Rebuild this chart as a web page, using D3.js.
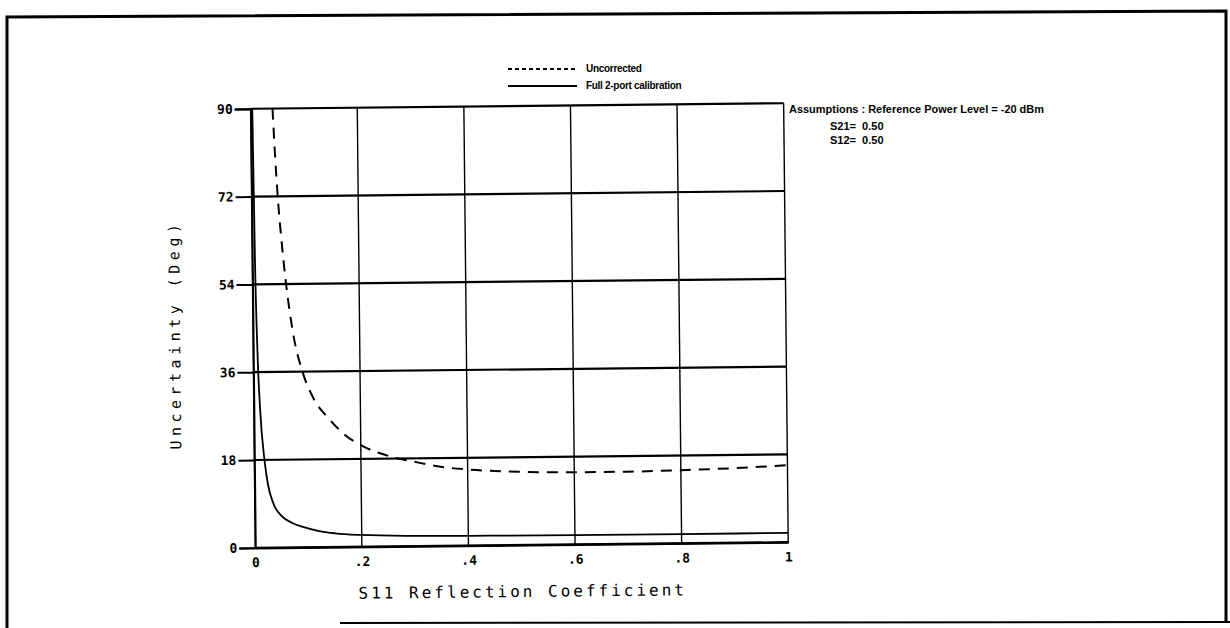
<!DOCTYPE html>
<html><head><meta charset="utf-8">
<script src="https://cdn.jsdelivr.net/npm/d3@7"></script>
<style>body{margin:0;background:#fff}svg{display:block}</style>
</head><body>
<script>
const xTicks = [0, 0.2, 0.4, 0.6, 0.8, 1];
const xTickLabels = ["0", ".2", ".4", ".6", ".8", "1"];
const yTicks = [0, 18, 36, 54, 72, 90];
const yTickLabels = ["0", "18", "36", "54", "72", "90"];

const uncorrX = [0.041, 0.045, 0.049, 0.056, 0.063, 0.075, 0.092, 0.11, 0.143, 0.17, 0.2, 0.25, 0.3, 0.35, 0.4, 0.5, 0.6, 0.7, 0.8, 0.9, 1.0];
const uncorrY = [90, 80, 72, 62, 54, 44, 36, 31, 26, 23, 20.8, 18.6, 17.3, 16.2, 15.6, 15.0, 14.8, 14.8, 15.0, 15.3, 15.8];

const fullX = [0.003, 0.005, 0.008, 0.012, 0.019, 0.025, 0.035, 0.05, 0.07, 0.09, 0.12, 0.15, 0.2, 0.3, 0.4, 0.6, 0.8, 1.0];
const fullY = [90, 60, 40, 28, 18, 13, 9, 6.5, 5, 4.2, 3.3, 2.8, 2.4, 2.1, 2.0, 1.9, 1.9, 1.9];

const legendLabels = ["Uncorrected", "Full 2-port calibration"];
const assumptions = ["Assumptions : Reference Power Level = -20 dBm", "S21=  0.50", "S12=  0.50"];

const W = 1230, H = 628;
const svg = d3.select("body").append("svg").attr("width", W).attr("height", H);

// outer frame
svg.append("path").attr("d", "M7,628 L7,17 L1226,11 L1226,622").attr("fill", "none").attr("stroke", "#000").attr("stroke-width", 3);
svg.append("line").attr("x1", 340).attr("x2", 1230).attr("y1", 623).attr("y2", 622).attr("stroke", "#000").attr("stroke-width", 2);

const g = svg.append("g").attr("transform", "rotate(-0.6 520 330)");
const x = d3.scaleLinear().domain([0, 1]).range([253, 786]);
const y = d3.scaleLinear().domain([0, 90]).range([545, 106]);

// vertical grid
g.append("g").selectAll("line").data(xTicks).join("line")
  .attr("x1", d => x(d)).attr("x2", d => x(d)).attr("y1", y(90)).attr("y2", y(0))
  .attr("stroke", "#000").attr("stroke-width", 1.4);
// horizontal grid
g.append("g").selectAll("line").data(yTicks).join("line")
  .attr("x1", x(0)).attr("x2", x(1)).attr("y1", d => y(d)).attr("y2", d => y(d))
  .attr("stroke", "#000").attr("stroke-width", 2.2);

// y axis ticks + labels
const yAxis = d3.axisLeft(y).tickValues(yTicks).tickSize(16).tickPadding(2)
  .tickFormat((d, i) => yTickLabels[i]);
const ya = g.append("g").attr("transform", `translate(${x(0)},0)`).call(yAxis);
ya.select(".domain").attr("stroke", "#000").attr("stroke-width", 2);
ya.selectAll(".tick line").attr("stroke-width", 2);
ya.selectAll("text").attr("font-family", "DejaVu Sans Mono").attr("font-weight", "bold").attr("font-size", 13).attr("fill", "#000");

const xAxis = d3.axisBottom(x).tickValues(xTicks).tickSize(0).tickPadding(10)
  .tickFormat((d, i) => xTickLabels[i]);
const xa = g.append("g").attr("transform", `translate(0,${y(0)})`).call(xAxis);
xa.select(".domain").attr("stroke", "#000").attr("stroke-width", 2.2);
xa.selectAll("text").attr("font-family", "DejaVu Sans Mono").attr("font-weight", "bold").attr("font-size", 13).attr("fill", "#000");

// curves
const line = d3.line().x(d => x(d[0])).y(d => y(d[1])).curve(d3.curveMonotoneX);
g.append("path").datum(uncorrX.map((v, i) => [v, uncorrY[i]]))
  .attr("d", line).attr("fill", "none").attr("stroke", "#000").attr("stroke-width", 2)
  .attr("stroke-dasharray", "11,8");
g.append("path").datum(fullX.map((v, i) => [v, fullY[i]]))
  .attr("d", line).attr("fill", "none").attr("stroke", "#000").attr("stroke-width", 1.8);

// axis titles
g.append("text").attr("x", 520).attr("y", 597).attr("text-anchor", "middle")
  .attr("font-family", "DejaVu Sans Mono").attr("font-size", 16).attr("letter-spacing", 3)
  .text("S11 Reflection Coefficient");
g.append("text").attr("transform", "translate(180,331) rotate(-90)").attr("text-anchor", "middle")
  .attr("font-family", "DejaVu Sans Mono").attr("font-size", 15).attr("letter-spacing", 4.5)
  .text("Uncertainty (Deg)");

// legend
const lg = svg.append("g");
lg.append("line").attr("x1", 508).attr("x2", 577).attr("y1", 69).attr("y2", 69)
  .attr("stroke", "#000").attr("stroke-width", 1.8).attr("stroke-dasharray", "4,3");
lg.append("line").attr("x1", 508).attr("x2", 577).attr("y1", 86).attr("y2", 86)
  .attr("stroke", "#000").attr("stroke-width", 1.8);
lg.selectAll("text").data(legendLabels).join("text")
  .attr("x", 586).attr("y", (d, i) => 72 + i * 17)
  .attr("font-family", "Liberation Sans Narrow, Liberation Sans").attr("font-weight", "bold")
  .attr("font-size", 10).attr("letter-spacing", -0.3).text(d => d);

// assumptions
svg.append("text").attr("x", 789).attr("y", 113).attr("font-family", "Liberation Sans Narrow, Liberation Sans")
  .attr("font-weight", "bold").attr("font-size", 11).attr("textLength", 255).attr("lengthAdjust", "spacingAndGlyphs")
  .text(assumptions[0]);
svg.selectAll("text.s").data(assumptions.slice(1)).join("text").attr("class", "s")
  .attr("x", 830).attr("y", (d, i) => 130 + i * 14)
  .attr("font-family", "Liberation Sans Narrow, Liberation Sans").attr("font-weight", "bold").attr("font-size", 11)
  .attr("xml:space", "preserve").style("white-space", "pre").text(d => d);
</script>
</body></html>
